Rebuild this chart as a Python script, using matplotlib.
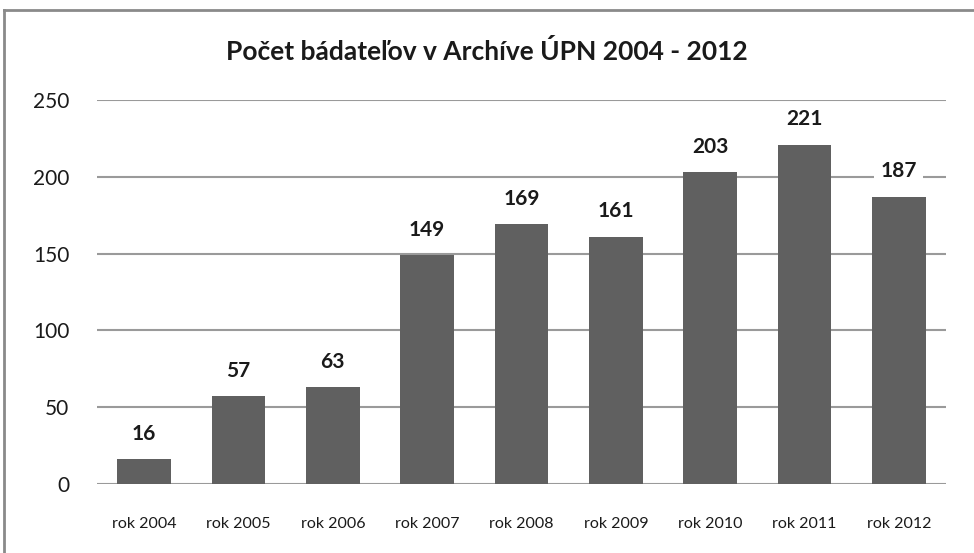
import matplotlib.pyplot as plt
from matplotlib.lines import Line2D

years = ["rok 2004", "rok 2005", "rok 2006", "rok 2007", "rok 2008",
         "rok 2009", "rok 2010", "rok 2011", "rok 2012"]
counts = [16, 57, 63, 149, 169, 161, 203, 221, 187]
yticks = [0, 50, 100, 150, 200, 250]

plt.rcParams["font.family"] = ["Lato", "DejaVu Sans"]

fig = plt.figure(figsize=(9.74, 5.53), dpi=100)
ax = fig.add_axes([97 / 974, 1 - 484 / 553, 849 / 974, 384 / 553])

x = range(len(years))
bars = ax.bar(x, counts, width=0.57, color="#606060", zorder=2)

for xi, v in zip(x, counts):
    ax.annotate(str(v), (xi, v), xytext=(0, 11), textcoords="offset points",
                ha="center", va="bottom", fontsize=15, fontweight="bold",
                color="#1a1a1a", zorder=3, annotation_clip=False,
                bbox=dict(boxstyle="square,pad=0.3", fc="white", ec="none"))

ax.set_xlim(-0.5, len(years) - 0.5)
ax.set_ylim(0, 250)
ax.set_yticks(yticks)
ax.set_xticks(list(x))
ax.set_xticklabels(years)
ax.tick_params(axis="y", length=0, pad=20, labelsize=15, labelcolor="#1a1a1a")
ax.tick_params(axis="x", length=0, pad=24, labelsize=11.5, labelcolor="#1a1a1a")
ax.grid(axis="y", color="#9a9a9a", linewidth=1.5, zorder=0)
for s in ax.spines.values():
    s.set_visible(False)

fig.text(0.5, 1 - 52 / 553, "Počet bádateľov v Archíve ÚPN 2004 - 2012",
         ha="center", va="center", fontsize=19, fontweight="bold", color="#1a1a1a")

# frame around the chart (only top and left edges visible)
fx, fy = 4 / 974, 1 - 10 / 553
fig.add_artist(Line2D([fx, 1], [fy, fy], color="#8a8a8a", linewidth=2))
fig.add_artist(Line2D([fx, fx], [0, fy], color="#8a8a8a", linewidth=2))

fig.savefig("out.png", dpi=100)
